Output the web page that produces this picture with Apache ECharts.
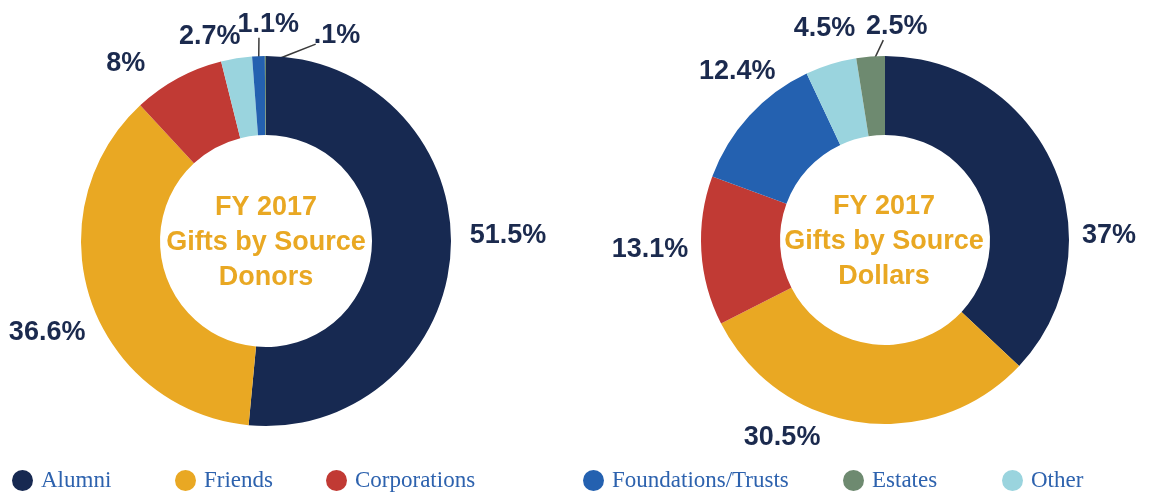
<!DOCTYPE html>
<html>
<head>
<meta charset="utf-8">
<script src="https://cdn.jsdelivr.net/npm/echarts@6/dist/echarts.min.js"></script>
<style>html,body{margin:0;padding:0;background:#fff}#c{width:1174px;height:495px}</style>
</head>
<body>
<div id="c"></div>
<script>
var categories = ['Alumni', 'Friends', 'Corporations', 'Foundations/Trusts', 'Estates', 'Other'];
var colors = {
  'Alumni': '#172951', 'Friends': '#E9A823', 'Corporations': '#C13A34',
  'Foundations/Trusts': '#2461B0', 'Estates': '#6E8A70', 'Other': '#9AD4DE'
};
// clockwise order as drawn
var donorsOrder = ['Alumni', 'Friends', 'Corporations', 'Other', 'Foundations/Trusts', 'Estates'];
var donorsValues = [51.5, 36.6, 8, 2.7, 1.1, 0.1];
var donorsLabels = ['51.5%', '36.6%', '8%', '2.7%', '1.1%', '.1%'];
var dollarsOrder = ['Alumni', 'Friends', 'Corporations', 'Foundations/Trusts', 'Other', 'Estates'];
var dollarsValues = [37, 30.5, 13.1, 12.4, 4.5, 2.5];
var dollarsLabels = ['37%', '30.5%', '13.1%', '12.4%', '4.5%', '2.5%'];
var centerTitles = ['FY 2017\nGifts by Source\nDonors', 'FY 2017\nGifts by Source\nDollars'];

var labelColor = '#1B2A4E';
function buildData(order, values, labels) {
  return order.map(function (n, i) {
    return { name: n, value: values[i], labelText: labels[i], itemStyle: { color: colors[n] } };
  });
}
// label offsets (dx, dy) and leader-line anchor (fraction of label box, inward extension)
var donorsOffsets = [[2, -15], [11, 28], [-22, -4], [11, -10], [46, -20], [100, -8]];
var donorsLines = { 4: [0.35, 1.0, 6], 5: [0.04, 0.8, 8] };
var dollarsOffsets = [[12, 73], [-32, 4], [4, -2], [40, -36], [33, -24], [63, -18]];
var dollarsLines = { 5: [0.28, 1.0, 9] };

function makeSeries(order, values, labels, center, radius, offsets, lines) {
  return {
    type: 'pie', center: center, radius: radius, startAngle: 90, clockwise: true,
    avoidLabelOverlap: false, silent: true,
    label: {
      show: true, position: 'outside',
      formatter: function (p) { return p.data.labelText; },
      color: labelColor, fontFamily: 'Liberation Sans, Arial, sans-serif',
      fontWeight: 'bold', fontSize: 27
    },
    labelLine: { show: true, length: 12, length2: 0, lineStyle: { color: '#3a3a3a', width: 1.5 } },
    labelLayout: function (params) {
      var i = params.dataIndex;
      var o = offsets[i];
      var res = { dx: o[0], dy: o[1] };
      var r = params.labelRect;
      var pts = params.labelLinePoints;
      if (lines[i] && pts) {
        var a = lines[i];
        var ux = pts[0][0] - center[0], uy = pts[0][1] - center[1];
        var len = Math.sqrt(ux * ux + uy * uy) || 1;
        var sx = pts[0][0] - ux / len * a[2], sy = pts[0][1] - uy / len * a[2];
        var ex = r.x + o[0] + r.width * a[0], ey = r.y + o[1] + r.height * a[1];
        res.labelLinePoints = [[sx, sy], [(sx + ex) / 2, (sy + ey) / 2], [ex, ey]];
      } else if (pts) {
        res.labelLinePoints = [pts[0], pts[0], pts[0]];
      }
      return res;
    },
    data: buildData(order, values, labels)
  };
}

var chart = echarts.init(document.getElementById('c'), null, { renderer: 'canvas' });
var legendX = [7, 170, 321, 578, 838, 997];
var legends = categories.map(function (n, i) {
  return {
    data: [{ name: n, icon: 'circle' }], left: legendX[i], top: 464,
    itemWidth: 21, itemHeight: 22, selectedMode: false,
    textStyle: { fontFamily: 'Liberation Serif, Times New Roman, serif', fontSize: 23, color: '#2D62AE', padding: [0, 0, 0, 3] }
  };
});
chart.setOption({
  animation: false,
  title: [
    { text: centerTitles[0], left: 261, top: 185, textAlign: 'center',
      textStyle: { color: '#E9A823', fontSize: 27, fontWeight: 'bold', fontFamily: 'Liberation Sans, Arial, sans-serif', lineHeight: 35 } },
    { text: centerTitles[1], left: 879, top: 184, textAlign: 'center',
      textStyle: { color: '#E9A823', fontSize: 27, fontWeight: 'bold', fontFamily: 'Liberation Sans, Arial, sans-serif', lineHeight: 35 } }
  ],
  legend: legends,
  series: [
    makeSeries(donorsOrder, donorsValues, donorsLabels, [266, 241], [106, 185], donorsOffsets, donorsLines),
    makeSeries(dollarsOrder, dollarsValues, dollarsLabels, [885, 240], [105, 184], dollarsOffsets, dollarsLines)
  ]
});
</script>
</body>
</html>
